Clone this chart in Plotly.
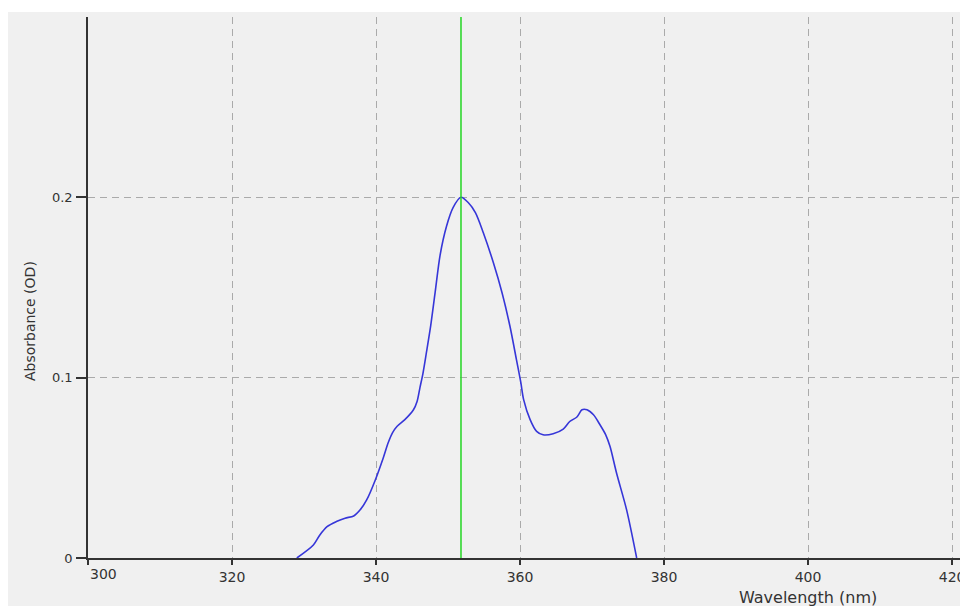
import plotly.graph_objects as go

# Absorption spectrum (wavelength in nm, absorbance in OD)
wavelength_nm = [329.0, 331.3, 332.2, 333.2, 334.5, 335.7, 336.9, 337.8, 338.7, 339.9,
                 341.0, 341.7, 342.3, 342.9, 344.0, 345.2, 345.7, 346.1, 346.5, 347.0,
                 347.6, 348.2, 348.9, 349.8, 350.7, 351.8, 352.8, 353.8, 354.9, 356.3,
                 357.5, 358.6, 359.5, 360.1, 360.5, 361.4, 362.3, 363.2, 364.6, 366.0,
                 366.9, 367.9, 368.6, 369.3, 370.2, 371.1, 371.9, 372.5, 373.4, 374.8,
                 376.2]
absorbance_od = [0.0, 0.0072, 0.0128, 0.0174, 0.0202, 0.0221, 0.0233, 0.0267, 0.0322, 0.0433,
                 0.0555, 0.0640, 0.0695, 0.0729, 0.0767, 0.0822, 0.0868, 0.0945, 0.1020, 0.1140,
                 0.1290, 0.1470, 0.1680, 0.1841, 0.1943, 0.2, 0.1971, 0.1915, 0.1804, 0.1637,
                 0.1471, 0.1285, 0.1100, 0.0975, 0.0878, 0.0767, 0.0702, 0.0683, 0.0689, 0.0715,
                 0.0757, 0.0782, 0.0822, 0.0822, 0.0794, 0.0739, 0.0683, 0.0618, 0.0471, 0.0267,
                 0.0]

peak_nm = 351.8

x_ticks = [300, 320, 340, 360, 380, 400, 420]
y_ticks = [0, 0.1, 0.2]
y_tick_labels = ["0", "0.1", "0.2"]

FONT = "DejaVu Sans, Verdana, sans-serif"
BG = "#f0f0f0"
INK = "#333333"

fig = go.Figure()

fig.add_trace(go.Scatter(
    x=wavelength_nm, y=absorbance_od, mode="lines",
    line=dict(color="#3636d8", width=1.6, shape="spline", smoothing=0.8),
    showlegend=False, hoverinfo="x+y",
))

# Marker line at the absorbance maximum
fig.add_trace(go.Scatter(
    x=[peak_nm, peak_nm], y=[0, 0.3], mode="lines",
    line=dict(color="#22d622", width=1.5),
    showlegend=False, hoverinfo="x",
))

fig.update_layout(
    width=960, height=606,
    margin=dict(l=88, r=0, t=17, b=48, autoexpand=False),
    paper_bgcolor=BG, plot_bgcolor=BG,
    font=dict(family=FONT, size=13, color=INK),
    xaxis=dict(
        range=[300, 421.1], tickvals=x_ticks,
        ticktext=[""] + [str(v) for v in x_ticks[1:]],
        ticks="outside", ticklen=5, tickcolor=INK, tickwidth=1.5,
        showline=True, linecolor=INK, linewidth=1.5,
        showgrid=True, gridcolor="#aaaaaa", gridwidth=1, griddash="7px,5px",
        zeroline=False, ticklabeloverflow="allow", automargin=False,
        tickfont=dict(family=FONT, size=14, color=INK),
    ),
    yaxis=dict(
        range=[0, 0.3], tickvals=y_ticks, ticktext=y_tick_labels,
        ticks="outside", ticklen=10, tickcolor=INK, tickwidth=1.5,
        showline=True, linecolor=INK, linewidth=1.5,
        showgrid=True, gridcolor="#aaaaaa", gridwidth=1, griddash="7px,5px",
        zeroline=False, ticklabelstandoff=1, automargin=False,
        tickfont=dict(family=FONT, size=13, color=INK),
    ),
    shapes=[
        dict(type="rect", xref="paper", yref="paper", x0=-0.2, x1=1.1,
             y0=1.0092, y1=1.2, fillcolor="white", line=dict(width=0), layer="above"),
        dict(type="rect", xref="paper", yref="paper", x0=-0.2, x1=-0.0917,
             y0=-0.2, y1=1.2, fillcolor="white", line=dict(width=0), layer="above"),
    ],
    annotations=[
        dict(text="300", x=300, xref="x", y=-0.0296, yref="paper",
             xanchor="left", yanchor="middle", showarrow=False,
             font=dict(family=FONT, size=14, color=INK)),
        dict(text="Wavelength (nm)", x=0.8257, xref="paper", y=-0.0739, yref="paper",
             xanchor="center", yanchor="middle", showarrow=False,
             font=dict(family=FONT, size=16, color=INK)),
        dict(text="Absorbance (OD)", x=-0.0665, xref="paper", y=0.438, yref="paper",
             xanchor="center", yanchor="middle", textangle=-90, showarrow=False,
             font=dict(family=FONT, size=14, color=INK)),
    ],
)

fig.write_html("out.html")
